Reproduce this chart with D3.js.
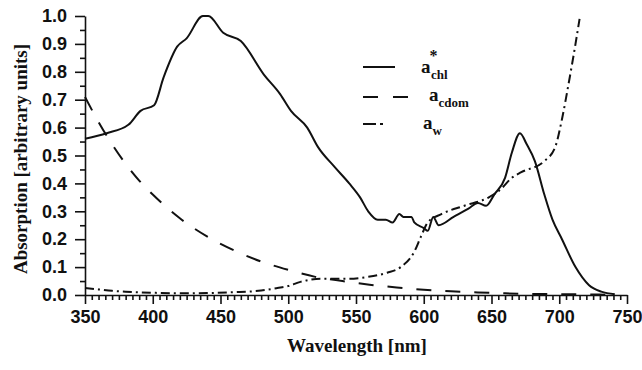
<!DOCTYPE html>
<html>
<head>
<meta charset="utf-8">
<script src="https://cdnjs.cloudflare.com/ajax/libs/d3/7.8.5/d3.min.js"></script>
<style>
  body { margin: 0; background: #fff; }
  svg { display: block; font-family: "Liberation Serif", "Times New Roman", serif; }
  .axis text { font-size: 18px; font-weight: bold; fill: #111; }
  .axis path, .axis line { stroke: #111; stroke-width: 1.6; }
  .title { font-size: 19px; font-weight: bold; fill: #111; }
  .legend text { font-size: 19px; font-weight: bold; fill: #111; }
</style>
</head>
<body>
<svg id="chart" width="642" height="370"></svg>
<script>
// a*chl (solid)
const chlWave = [350, 366, 382, 391, 401, 408, 418, 425, 437, 441, 452, 465, 482, 494, 502, 514, 522, 534, 545, 553, 559, 566, 572, 577, 582, 585, 591, 593, 600, 603, 607, 611, 622, 633, 640, 646, 652, 660, 665, 671, 676, 682, 689, 695, 702, 712, 722, 731, 741];
const chlVal  = [0.56, 0.58, 0.61, 0.66, 0.68, 0.78, 0.89, 0.92, 1.00, 1.00, 0.94, 0.91, 0.79, 0.72, 0.66, 0.60, 0.53, 0.46, 0.40, 0.35, 0.30, 0.27, 0.27, 0.26, 0.29, 0.28, 0.28, 0.26, 0.24, 0.23, 0.28, 0.25, 0.28, 0.31, 0.33, 0.32, 0.36, 0.42, 0.51, 0.58, 0.54, 0.48, 0.36, 0.27, 0.20, 0.10, 0.035, 0.012, 0.003];

// a_cdom (dashed)
const cdomWave = [350, 360, 370, 380, 390, 400, 420, 440, 460, 480, 500, 520, 540, 560, 580, 600, 620, 640, 660, 680, 700, 720, 740];
const cdomVal  = [0.71, 0.62, 0.54, 0.47, 0.41, 0.36, 0.275, 0.21, 0.16, 0.12, 0.09, 0.065, 0.05, 0.037, 0.027, 0.019, 0.013, 0.009, 0.006, 0.004, 0.003, 0.002, 0.001];

// a_w (dash-dot)
const wWave = [350, 360, 370, 380, 400, 420, 440, 460, 480, 492, 500, 509, 524, 544, 559, 573, 583, 593, 598, 603, 613, 630, 648, 657, 665, 672, 689, 697, 702, 707, 712, 715];
const wVal  = [0.025, 0.02, 0.015, 0.012, 0.008, 0.006, 0.007, 0.01, 0.016, 0.025, 0.032, 0.047, 0.058, 0.058, 0.065, 0.08, 0.10, 0.155, 0.21, 0.26, 0.29, 0.32, 0.35, 0.38, 0.42, 0.44, 0.48, 0.53, 0.63, 0.76, 0.90, 0.99];

const xTicks = [350, 400, 450, 500, 550, 600, 650, 700, 750];
const yTicks = [0, 0.1, 0.2, 0.3, 0.4, 0.5, 0.6, 0.7, 0.8, 0.9, 1.0];
const xTitle = 'Wavelength [nm]';
const yTitle = 'Absorption [arbitrary units]';

const svg = d3.select('#chart');
const plotLeft = 85, plotRight = 627, plotTop = 16, plotBottom = 295;

const x = d3.scaleLinear().domain([350, 750]).range([plotLeft, plotRight]);
const y = d3.scaleLinear().domain([0, 1]).range([plotBottom, plotTop]);

// minor ticks
svg.append('g')
  .attr('class', 'axis')
  .attr('transform', `translate(0,${plotBottom})`)
  .call(d3.axisBottom(x).tickValues(d3.range(355, 750, 5).filter(v => v % 50 !== 0)).tickSize(5).tickFormat(''))
  .call(g => g.select('.domain').remove());

svg.append('g')
  .attr('class', 'axis')
  .attr('transform', `translate(${plotLeft},0)`)
  .call(d3.axisLeft(y).tickValues(d3.range(0.05, 1, 0.1)).tickSize(5).tickFormat(''))
  .call(g => g.select('.domain').remove());

// major axes
svg.append('g')
  .attr('class', 'axis')
  .attr('transform', `translate(0,${plotBottom})`)
  .call(d3.axisBottom(x).tickValues(xTicks).tickSize(9).tickSizeOuter(0).tickPadding(6));

svg.append('g')
  .attr('class', 'axis')
  .attr('transform', `translate(${plotLeft},0)`)
  .call(d3.axisLeft(y).tickValues(yTicks).tickSize(10).tickSizeOuter(0).tickPadding(8).tickFormat(d3.format('.1f')));

// axis titles
svg.append('text')
  .attr('class', 'title')
  .attr('x', 357)
  .attr('y', 352)
  .attr('text-anchor', 'middle')
  .text(xTitle);

svg.append('text')
  .attr('class', 'title')
  .attr('transform', 'translate(27,159) rotate(-90)')
  .attr('text-anchor', 'middle')
  .text(yTitle);

// curves
const line = d3.line().curve(d3.curveMonotoneX).x(d => x(d[0])).y(d => y(d[1]));

const series = [
  { wave: chlWave, val: chlVal, dash: null },
  { wave: cdomWave, val: cdomVal, dash: '15,14' },
  { wave: wWave, val: wVal, dash: '9,4,2,4' }
];

series.forEach(s => {
  svg.append('path')
    .datum(d3.zip(s.wave, s.val))
    .attr('fill', 'none')
    .attr('stroke', '#111')
    .attr('stroke-width', 2)
    .attr('stroke-dasharray', s.dash)
    .attr('d', line);
});

// legend
const lg = svg.append('g').attr('class', 'legend');
const legendY = [67, 97, 124];
const legendDash = [null, '15,15', '13,4,3,20'];
legendY.forEach((ly, i) => {
  lg.append('line')
    .attr('x1', 363).attr('x2', i === 1 ? 410 : (i === 2 ? 385 : 395))
    .attr('y1', ly).attr('y2', ly)
    .attr('stroke', '#111')
    .attr('stroke-width', 2)
    .attr('stroke-dasharray', legendDash[i]);
});

const t1 = lg.append('text').attr('x', 421).attr('y', 73);
t1.append('tspan').text('a');
t1.append('tspan').attr('dy', -12).attr('dx', -1).style('font-size', '16px').text('*');
t1.append('tspan').attr('x', 431).attr('y', 79).style('font-size', '13px').text('chl');

const t2 = lg.append('text').attr('x', 429).attr('y', 101);
t2.append('tspan').text('a');
t2.append('tspan').attr('dy', 6).style('font-size', '13px').text('cdom');

const t3 = lg.append('text').attr('x', 423).attr('y', 129);
t3.append('tspan').text('a');
t3.append('tspan').attr('dy', 6).style('font-size', '13px').text('w');
</script>
</body>
</html>
